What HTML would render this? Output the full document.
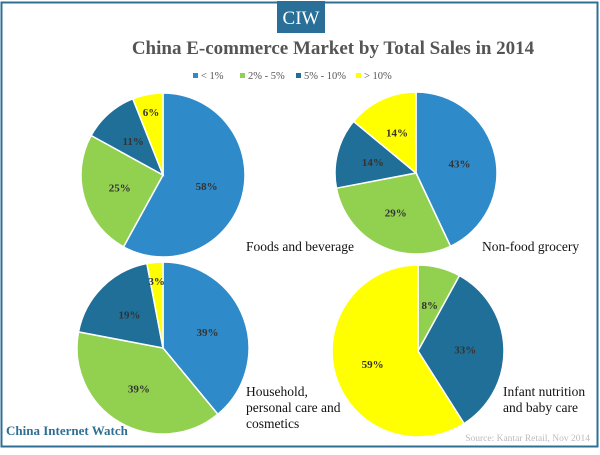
<!DOCTYPE html>
<html><head><meta charset="utf-8"><style>
body{margin:0;width:600px;height:450px;background:#fff;overflow:hidden;font-family:"Liberation Serif",serif}
</style></head><body>
<svg width="600" height="450">
<rect x="1.5" y="2.5" width="596" height="444" fill="#fff" stroke="#2f6f94" stroke-width="2"/>
<rect x="277" y="1" width="48" height="32" fill="#2a6f97"/>
<text x="301" y="24" text-anchor="middle" fill="#fff" font-size="19">CIW</text>
<text x="333" y="54" text-anchor="middle" fill="#555" font-size="19" font-weight="bold">China E-commerce Market by Total Sales in 2014</text>
<g id="legend" font-size="10.5" fill="#555"></g>
<g id="pies"></g>
<text x="246" y="251" font-size="13.5" fill="#111">Foods and beverage</text>
<text x="482" y="251" font-size="13.5" fill="#111">Non-food grocery</text>
<text x="246" y="396" font-size="13.5" fill="#111"><tspan x="246">Household,</tspan><tspan x="246" dy="16">personal care  and</tspan><tspan x="246" dy="16">cosmetics</tspan></text>
<text x="503" y="396" font-size="13.5" fill="#111"><tspan x="503">Infant nutrition</tspan><tspan x="503" dy="16">and baby care</tspan></text>
<text x="6" y="435" font-size="13" font-weight="bold" fill="#2f6f94">China Internet Watch</text>
<text x="590" y="441" text-anchor="end" font-size="9.5" fill="#bbb">Source: Kantar Retail, Nov 2014</text>
</svg>
<script>
const categories=["< 1%","2% - 5%","5% - 10%","> 10%"];
const colors=["#2e8ac9","#92d050","#1f6f99","#ffff00"];
const pieNames=["foods-beverage","non-food-grocery","household","infant-nutrition"];
const foodsValues=[58,25,11,6];
const nonfoodValues=[43,29,14,14];
const householdValues=[39,39,19,3];
const infantValues=[0,8,33,59];
const allValues=[foodsValues,nonfoodValues,householdValues,infantValues];
const geom=[[163,175,82],[416,173,81],[163,348,86],[418,351,86]];
const NS="http://www.w3.org/2000/svg";
const leg=document.getElementById('legend');
const lx=[193,240,296,356];
categories.forEach((c,i)=>{
 const r=document.createElementNS(NS,'rect');
 r.setAttribute('x',lx[i]);r.setAttribute('y',73);r.setAttribute('width',5);r.setAttribute('height',5);r.setAttribute('fill',colors[i]);
 
 
 leg.appendChild(r);
 const t=document.createElementNS(NS,'text');
 t.setAttribute('x',lx[i]+8);t.setAttribute('y',79);t.textContent=c;
 
 
 leg.appendChild(t);
});
const pies=document.getElementById('pies');
allValues.forEach((vals,p)=>{
 const [cx,cy,R]=geom[p];
 const tot=vals.reduce((a,b)=>a+b,0);
 let a0=0;
 const g=document.createElementNS(NS,'g');
 
 
 vals.forEach((v,i)=>{
  if(v<=0)return;
  const a1=a0+v/tot*2*Math.PI;
  const x0=cx+R*Math.sin(a0),y0=cy-R*Math.cos(a0),x1=cx+R*Math.sin(a1),y1=cy-R*Math.cos(a1);
  const path=document.createElementNS(NS,'path');
  path.setAttribute('d',`M${cx},${cy}L${x0},${y0}A${R},${R} 0 ${a1-a0>Math.PI?1:0} 1 ${x1},${y1}Z`);
  path.setAttribute('fill',colors[i]);path.setAttribute('stroke','#fff');path.setAttribute('stroke-width','1.5');
  
  
  g.appendChild(path);
  const am=(a0+a1)/2, f=v<8?0.78:0.55;
  const t=document.createElementNS(NS,'text');
  t.setAttribute('x',cx+R*f*Math.sin(am));t.setAttribute('y',cy-R*f*Math.cos(am)+4);
  t.setAttribute('text-anchor','middle');t.setAttribute('font-size','11');t.setAttribute('font-weight','bold');t.setAttribute('fill','#333');
  t.textContent=v+'%';
  
  
  g.appendChild(t);
  a0=a1;
 });
 pies.appendChild(g);
});
</script>
</body></html>
